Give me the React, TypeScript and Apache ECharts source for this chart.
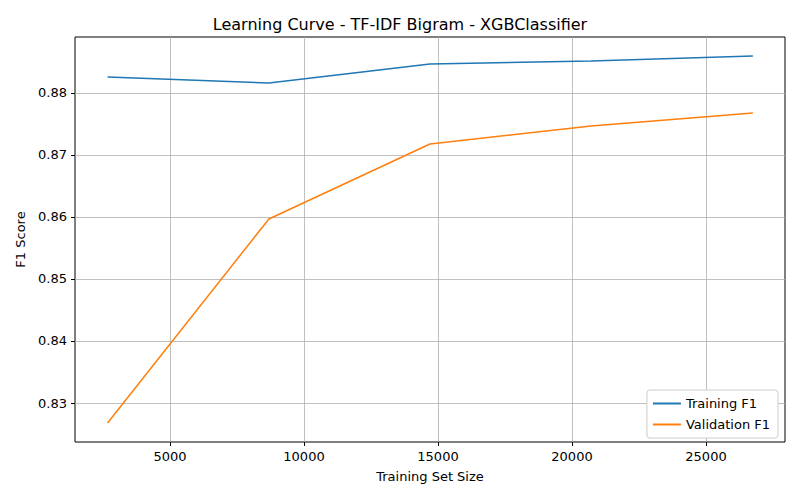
import { useEffect, useRef } from 'react';
import * as echarts from 'echarts';

const trainSizes = [2670, 8690, 14700, 20710, 26750];
const trainF1 = [0.88258, 0.88161, 0.88468, 0.88516, 0.88597];
const validF1 = [0.82677, 0.85968, 0.87177, 0.87468, 0.87677];
const xTicks = [5000, 10000, 15000, 20000, 25000];
const yTicks = [0.83, 0.84, 0.85, 0.86, 0.87, 0.88];

const font = 'DejaVu Sans';

const App = () => {
  const chartRef = useRef<HTMLDivElement>(null);

  useEffect(() => {
    if (!chartRef.current) return;
    const chart = echarts.init(chartRef.current, undefined, { renderer: 'svg' });

    const gridLine = { show: true, lineStyle: { color: '#b0b0b0', width: 0.8 } };
    chart.setOption({
      animation: false,
      textStyle: { fontFamily: font },
      title: {
        text: 'Learning Curve - TF-IDF Bigram - XGBClassifier',
        left: 'center',
        top: 11,
        textStyle: { fontFamily: font, fontSize: 16, fontWeight: 'normal', color: '#000' },
      },
      grid: {
        left: 75, right: 15, top: 37, bottom: 58,
        show: true, borderColor: '#000', borderWidth: 1,
      },
      legend: {
        orient: 'vertical',
        right: 22,
        top: 390,
        itemWidth: 28,
        itemHeight: 2,
        itemGap: 8,
        padding: [7, 8, 7, 6],
        borderColor: '#ccc',
        borderWidth: 1,
        borderRadius: 3,
        backgroundColor: '#fff',
        textStyle: { fontFamily: font, fontSize: 13, color: '#000' },
        data: [
          { name: 'Training F1', icon: 'rect' },
          { name: 'Validation F1', icon: 'rect' },
        ],
      },
      xAxis: {
        type: 'value',
        min: 1455,
        max: 27948,
        name: 'Training Set Size',
        nameLocation: 'middle',
        nameGap: 28,
        nameTextStyle: { fontFamily: font, fontSize: 13, color: '#000' },
        axisLine: { show: false },
        axisTick: { show: true, customValues: xTicks, length: 4, lineStyle: { color: '#000' } },
        axisLabel: {
          customValues: xTicks,
          fontFamily: font, fontSize: 13, color: '#000',
          formatter: (v: number) => String(v),
        },
        splitLine: gridLine,
      },
      yAxis: {
        type: 'value',
        min: 0.82371,
        max: 0.88903,
        name: 'F1 Score',
        nameLocation: 'middle',
        nameGap: 48,
        nameTextStyle: { fontFamily: font, fontSize: 13, color: '#000' },
        axisLine: { show: false },
        axisTick: { show: true, customValues: yTicks, length: 4, lineStyle: { color: '#000' } },
        axisLabel: {
          customValues: yTicks,
          fontFamily: font, fontSize: 13, color: '#000',
          formatter: (v: number) => v.toFixed(2),
        },
        splitLine: gridLine,
      },
      series: [
        {
          name: 'Training F1',
          type: 'line',
          data: trainSizes.map((x, i) => [x, trainF1[i]]),
          showSymbol: false,
          lineStyle: { color: '#1f77b4', width: 1.5 },
          itemStyle: { color: '#1f77b4' },
        },
        {
          name: 'Validation F1',
          type: 'line',
          data: trainSizes.map((x, i) => [x, validF1[i]]),
          showSymbol: false,
          lineStyle: { color: '#ff7f0e', width: 1.5 },
          itemStyle: { color: '#ff7f0e' },
        },
      ],
    });

    return () => chart.dispose();
  }, []);

  return (
    <div
      ref={chartRef}
      style={{ position: 'fixed', left: 0, top: 0, width: 800, height: 500, background: '#fff' }}
    />
  );
};

export default App;
